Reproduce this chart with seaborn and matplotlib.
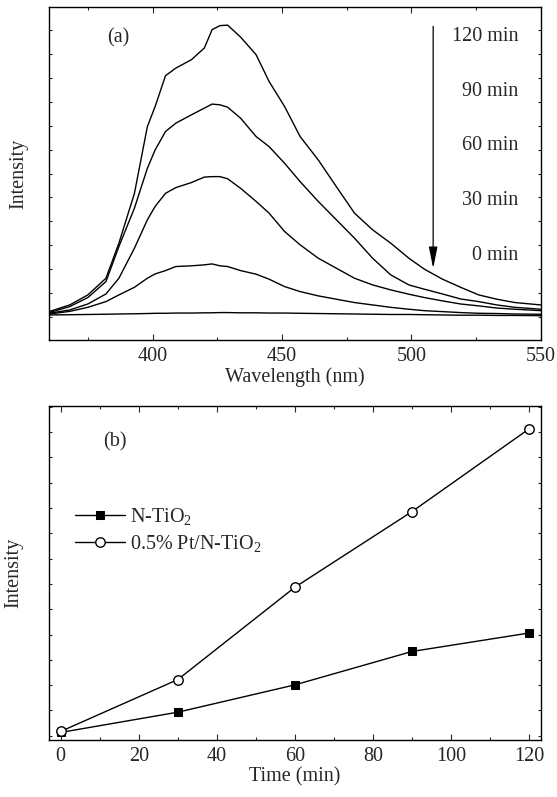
import matplotlib
matplotlib.use("Agg")
import matplotlib.pyplot as plt
import seaborn as sns
import pandas as pd
from matplotlib.ticker import MultipleLocator, NullFormatter

# ---- panel (a): PL spectra (arbitrary units) ----
wavelength = [360, 368, 375, 382, 387, 393, 398, 401, 405, 409, 415, 420, 423, 426, 429,
              434, 440, 445, 451, 457, 464, 471, 478, 485, 492, 499, 505, 512, 519, 526,
              533, 540, 550]

spec_120 = [0.21, 0.49, 0.91, 1.61, 3.08, 5.17, 7.97, 8.81, 10.10, 10.42, 10.77, 11.26, 12.03,
            12.20, 12.22, 11.72, 10.98, 9.86, 8.81, 7.55, 6.57, 5.45, 4.34, 3.64, 3.08, 2.45,
            1.99, 1.57, 1.23, 0.91, 0.73, 0.59, 0.49]
spec_90 = [0.17, 0.42, 0.80, 1.47, 2.94, 4.55, 6.22, 6.99, 7.76, 8.11, 8.46, 8.74, 8.91, 8.88,
           8.78, 8.32, 7.55, 7.13, 6.43, 5.66, 4.83, 4.06, 3.29, 2.45, 1.75, 1.33, 1.15, 0.95,
           0.74, 0.63, 0.49, 0.39, 0.31]
spec_60 = [0.14, 0.28, 0.53, 0.95, 1.61, 2.87, 4.06, 4.62, 5.17, 5.41, 5.62, 5.85, 5.87, 5.87,
           5.78, 5.38, 4.83, 4.34, 3.57, 3.01, 2.45, 2.03, 1.61, 1.33, 1.12, 0.94, 0.80, 0.66,
           0.53, 0.45, 0.36, 0.31, 0.25]
spec_30 = [0.11, 0.22, 0.39, 0.63, 0.91, 1.23, 1.61, 1.79, 1.93, 2.10, 2.13, 2.17, 2.21, 2.13,
           2.10, 1.93, 1.78, 1.57, 1.26, 1.05, 0.87, 0.73, 0.59, 0.49, 0.39, 0.31, 0.25, 0.21,
           0.17, 0.14, 0.13, 0.11, 0.10]
spec_0 = [0.07, 0.08, 0.09, 0.10, 0.11, 0.12, 0.13, 0.14, 0.14, 0.15, 0.15, 0.16, 0.16, 0.17,
          0.17, 0.16, 0.16, 0.15, 0.15, 0.14, 0.13, 0.12, 0.11, 0.10, 0.09, 0.09, 0.08, 0.07,
          0.06, 0.06, 0.05, 0.05, 0.04]
time_labels = ["120 min", "90 min", "60 min", "30 min", "0 min"]

# ---- panel (b): intensity vs irradiation time ----
time_min = [0, 30, 60, 90, 120]
n_tio2 = [0.13, 0.93, 2.01, 3.33, 4.06]
pt_n_tio2 = [0.17, 2.22, 5.87, 8.86, 12.13]

sns.set_style("ticks")
plt.rcParams['font.family'] = ['Liberation Serif', 'DejaVu Serif']
plt.rcParams['mathtext.fontset'] = 'custom'
plt.rcParams['mathtext.rm'] = 'Liberation Serif'
plt.rcParams['mathtext.it'] = 'Liberation Serif:italic'
plt.rcParams['font.size'] = 14.5

fig = plt.figure(figsize=(5.57, 7.97), dpi=100)
ax1 = fig.add_axes([0.088, 0.5734, 0.883, 0.4178])
ax2 = fig.add_axes([0.088, 0.0715, 0.883, 0.419])

spectra = pd.DataFrame({'Wavelength': wavelength, '120': spec_120, '90': spec_90,
                        '60': spec_60, '30': spec_30, '0': spec_0})
for col in ['120', '90', '60', '30', '0']:
    sns.lineplot(data=spectra, x='Wavelength', y=col, ax=ax1, color='black', lw=1.0)

ax1.set_xlim(360, 550)
ax1.set_ylim(-0.98, 12.98)
ax1.xaxis.set_major_locator(MultipleLocator(50))
ax1.xaxis.set_minor_locator(MultipleLocator(25))
ax1.yaxis.set_major_locator(MultipleLocator(1))
ax1.yaxis.set_major_formatter(NullFormatter())
ax1.set_xlabel('Wavelength (nm)', fontsize=14.5, labelpad=1)
ax1.set_ylabel('Intensity', fontsize=14.5)
ax1.yaxis.set_label_coords(-0.043, 0.5)
ax1.text(0.140, 0.907, '(a)', transform=ax1.transAxes, ha='center', va='center', fontsize=14.5)
for lbl, yy in zip(time_labels, [0.911, 0.746, 0.583, 0.420, 0.255]):
    ax1.text(0.955, yy, lbl, transform=ax1.transAxes, ha='right', va='center', fontsize=14.5)
ax1.annotate('', xy=(508.4, 0.215), xytext=(508.4, 0.942),
             xycoords=('data', 'axes fraction'), textcoords=('data', 'axes fraction'),
             arrowprops=dict(arrowstyle='-|>,head_width=0.18,head_length=0.9',
                             color='black', lw=0.9, shrinkA=0, shrinkB=0))

growth = pd.DataFrame({'Time': time_min, 'N': n_tio2, 'Pt': pt_n_tio2})
sns.lineplot(data=growth, x='Time', y='N', ax=ax2, color='black', lw=1.0, marker='s',
             markersize=5.5, markerfacecolor='black', markeredgecolor='black',
             label='N-TiO$_2$')
sns.lineplot(data=growth, x='Time', y='Pt', ax=ax2, color='black', lw=1.0, marker='o',
             markersize=6.8, markerfacecolor='white', markeredgecolor='black',
             markeredgewidth=1.0, label='0.5% Pt/N-TiO$_2$')

ax2.set_xlim(-3, 123)
ax2.set_ylim(-0.17, 13.03)
ax2.xaxis.set_major_locator(MultipleLocator(20))
ax2.xaxis.set_minor_locator(MultipleLocator(10))
ax2.yaxis.set_major_locator(MultipleLocator(1))
ax2.yaxis.set_major_formatter(NullFormatter())
ax2.set_xlabel('Time (min)', fontsize=14.5, labelpad=1)
ax2.set_ylabel('Intensity', fontsize=14.5)
ax2.yaxis.set_label_coords(-0.052, 0.5)
ax2.text(0.134, 0.892, '(b)', transform=ax2.transAxes, ha='center', va='center', fontsize=14.5)
ax2.legend(loc='upper left', bbox_to_anchor=(0.053, 0.70), frameon=False, fontsize=14.5,
           handlelength=2.5, handletextpad=0.25, borderpad=0, borderaxespad=0,
           labelspacing=0.3)

for ax in (ax1, ax2):
    ax.tick_params(which='major', direction='in', length=4, width=0.8, top=True, right=True,
                   labelsize=14.5, pad=5)
    ax.tick_params(which='minor', direction='in', length=2.5, width=0.8, top=True, right=True)
    ax.tick_params(axis='y', which='major', length=2.5)
    for s in ax.spines.values():
        s.set_linewidth(1.0)
        s.set_color('black')

fig.savefig('out.png', dpi=100)
